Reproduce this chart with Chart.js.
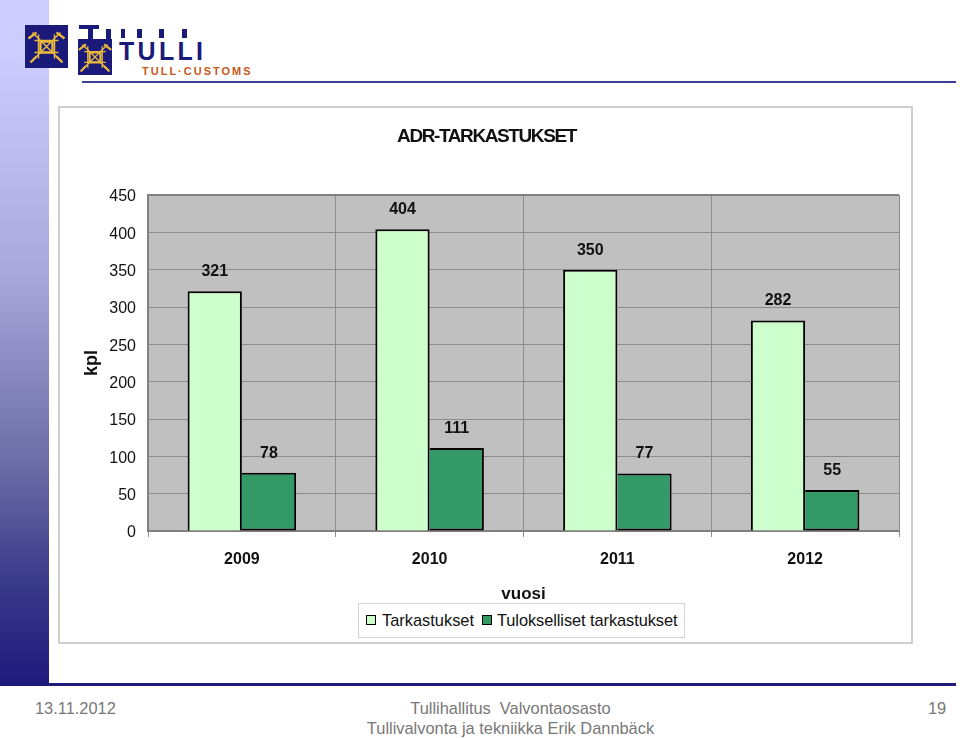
<!DOCTYPE html>
<html>
<head>
<meta charset="utf-8">
<title>ADR-tarkastukset</title>
<script src="https://cdn.jsdelivr.net/npm/chart.js@4"></script>
<style>
  html, body { margin: 0; padding: 0; background: #fff; }
  body { width: 960px; height: 738px; position: relative; overflow: hidden; font-family: "Liberation Sans", Arial, sans-serif; }
  .abs { position: absolute; }
  #sivu { left: 0; top: 0; width: 49px; height: 683px; background: linear-gradient(#ccccff 8%, #a8a8dc 40%, #6c6ca6 68%, #3a3a8a 85%, #1f1a7c 100%); }
  #ala { left: 0; top: 683px; width: 956px; height: 3px; background: #1f1a7c; }
  #yla { left: 82px; top: 81px; width: 874px; height: 2px; background: #3d3d99; }
  #kehys { left: 58px; top: 106px; width: 851px; height: 534px; border: 2px solid #cfcfcf; }
  #kuva { left: 58px; top: 106px; }
  #selite { left: 358px; top: 603px; width: 325px; height: 33px; border: 1px solid #d4d4d4; background: #fff; font-size: 16.4px; color: #111; white-space: nowrap; }
  #selite span { position: absolute; top: 7px; }
  #selite span:last-child { letter-spacing: -0.08px; }
  #selite i { position: absolute; top: 11px; width: 8px; height: 8px; border: 1.5px solid #000; }
  .ala { color: #777; font-size: 16.4px; white-space: nowrap; }
  .keski { left: 340px; width: 341px; text-align: center; }
  #tulli { left: 119px; top: 37px; font-size: 25px; line-height: 28px; font-weight: bold; color: #1a1a7a; letter-spacing: 3.3px; }
  #customs { left: 142px; top: 65px; font-size: 11px; line-height: 12px; font-weight: bold; color: #c8571b; letter-spacing: 2px; }
</style>
</head>
<body>
<div class="abs" id="sivu"></div>
<div class="abs" id="ala"></div>
<div class="abs" id="yla"></div>

<!-- logot -->
<svg class="abs" style="left:0;top:0" width="200" height="80">
  <defs>
    <g id="vaakuna" stroke="#e9b83c" fill="none" stroke-width="1.5">
      <path d="M-14 -14 L14 14 M14 -14 L-14 14 M-8 -12 L-8 12 M8 -12 L8 12 M-12 -6 L12 -6 M-12 6 L12 6"/>
      <path d="M-18 -8 L-10 -14 M18 -8 L10 -14 M-16 16 L-10 10 M16 16 L10 10" stroke-width="2.4"/>
      <path d="M-6 -5 L6 -5 L6 6 L-6 6 Z" stroke-width="2.4"/>
    </g>
  </defs>
  <rect x="25" y="25" width="43" height="43" fill="#1a1a7a"/>
  <use href="#vaakuna" x="46.5" y="46.5"/>
  <rect x="79" y="25" width="20" height="4" fill="#1a1a7a"/>
  <rect x="88" y="29" width="5" height="10" fill="#1a1a7a"/>
  <rect x="106" y="29" width="5" height="10" fill="#1a1a7a"/>
  <rect x="78" y="39" width="34" height="36" fill="#1a1a7a"/>
  <use href="#vaakuna" x="95" y="57" transform="translate(9.5 5.7) scale(0.9)"/>
  <rect x="121" y="29" width="4" height="9" fill="#1a1a7a"/>
  <rect x="137" y="29" width="5" height="9" fill="#1a1a7a"/>
  <rect x="159" y="29" width="5" height="9" fill="#1a1a7a"/>
  <rect x="182" y="29" width="5" height="9" fill="#1a1a7a"/>
</svg>
<div class="abs" id="tulli">TULLI</div>
<div class="abs" id="customs">TULL·CUSTOMS</div>

<div class="abs" id="kehys"></div>
<canvas class="abs" id="kuva" width="854" height="537"></canvas>

<div class="abs" id="selite"></div>

<div class="abs ala" style="left:35px;top:699px">13.11.2012</div>
<div class="abs ala keski" style="top:699px">Tullihallitus&nbsp; Valvontaosasto</div>
<div class="abs ala keski" style="top:719px">Tullivalvonta ja tekniikka Erik Dannbäck</div>
<div class="abs ala" style="left:928px;top:699px">19</div>

<script>
(function () {
  "use strict";

  var vuodet = ["2009", "2010", "2011", "2012"];
  var tarkastukset = [321, 404, 350, 282];
  var tulokselliset = [78, 111, 77, 55];
  var nimet = ["Tarkastukset", "Tulokselliset tarkastukset"];
  var varit = ["#ccffcc", "#339966"];

  var FONTTI = '"Liberation Sans", Arial, sans-serif';

  // tausta, y-akselin numerot ja tiivis otsikko
  var taustaPlugin = {
    id: "tausta",
    beforeDraw: function (chart) {
      var a = chart.chartArea, c = chart.ctx;
      c.save();
      c.fillStyle = "#c0c0c0";
      c.fillRect(a.left, a.top, a.right - a.left, a.bottom - a.top);
      c.restore();
      // y-akselin numerot 2 px alemmas, kuten alkuperäisessä
      chart.scales.y.getLabelItems(a).forEach(function (it) {
        if (!it.siirretty) { it.options.translation[1] += 2; it.siirretty = true; }
      });
      var t = chart.titleBlock;
      if (t && !t.tiivis) {
        var piirra = t.draw;
        t.draw = function () {
          c.letterSpacing = "-1.4px";
          piirra.apply(t, arguments);
          c.letterSpacing = "0px";
        };
        t.tiivis = true;
      }
    }
  };
  var arvoPlugin = {
    id: "arvot",
    afterDatasetsDraw: function (chart) {
      var c = chart.ctx;
      c.save();
      c.font = "bold 16px " + FONTTI;
      c.fillStyle = "#111";
      c.textAlign = "center";
      c.textBaseline = "middle";
      chart.data.datasets.forEach(function (ds, i) {
        chart.getDatasetMeta(i).data.forEach(function (bar, j) {
          c.fillText(ds.data[j], bar.x, bar.y - 19.5);
        });
      });
      c.restore();
    }
  };

  new Chart(document.getElementById("kuva"), {
    type: "bar",
    data: {
      labels: vuodet,
      datasets: [
        { label: nimet[0], data: tarkastukset, backgroundColor: varit[0], borderColor: "#000", borderWidth: 2 },
        // vasen reuna jaetaan vaalean pylvään kanssa
        { label: nimet[1], data: tulokselliset, backgroundColor: varit[1], borderColor: "#000",
          borderSkipped: false, borderWidth: { top: 2, right: 2, bottom: 2, left: 0 } }
      ]
    },
    options: {
      responsive: false,
      animation: false,
      categoryPercentage: 0.578,
      barPercentage: 1,
      layout: { padding: { left: 16, right: 13, top: 0, bottom: 38 } },
      plugins: {
        legend: { display: false },
        tooltip: { enabled: false },
        title: {
          display: true,
          text: "ADR-TARKASTUKSET",
          color: "#111",
          font: { family: FONTTI, size: 19, weight: "bold", lineHeight: 1.2 },
          padding: { top: 19, bottom: 47.2 }
        }
      },
      scales: {
        x: {
          afterFit: function (s) { s.height = 74; },
          grid: { color: "#8c8c8c", lineWidth: 1, tickLength: 6, offset: true },
          border: { color: "#808080", width: 2 },
          ticks: { color: "#111", padding: 13, maxRotation: 0, font: { family: FONTTI, size: 16, weight: "bold" } },
          title: { display: true, text: "vuosi", color: "#111", padding: 0, font: { family: FONTTI, size: 17, weight: "bold" } }
        },
        y: {
          min: 0,
          max: 450,
          afterFit: function (s) { s.width = 74; },
          grid: {
            color: function (ctx) { return ctx.tick && ctx.tick.value === 450 ? "#808080" : "#8c8c8c"; },
            lineWidth: function (ctx) { return ctx.tick && ctx.tick.value === 450 ? 2 : 1; },
            drawTicks: false
          },
          border: { color: "#808080", width: 2 },
          ticks: { stepSize: 50, color: "#111", padding: 12, font: { family: FONTTI, size: 16 } },
          title: { display: true, text: "kpl", color: "#111", padding: { top: 7, bottom: 0 }, font: { family: FONTTI, size: 18, weight: "bold" } }
        }
      }
    },
    plugins: [taustaPlugin, arvoPlugin]
  });

  // selite HTML:nä, koska se ei ole kuvan keskellä
  var selite = document.getElementById("selite");
  var kohdat = [[7, 23], [123, 138]];
  nimet.forEach(function (n, i) {
    var ruutu = document.createElement("i");
    ruutu.style.left = kohdat[i][0] + "px";
    ruutu.style.background = varit[i];
    var teksti = document.createElement("span");
    teksti.style.left = kohdat[i][1] + "px";
    teksti.textContent = n;
    selite.appendChild(ruutu);
    selite.appendChild(teksti);
  });
})();
</script>
</body>
</html>
